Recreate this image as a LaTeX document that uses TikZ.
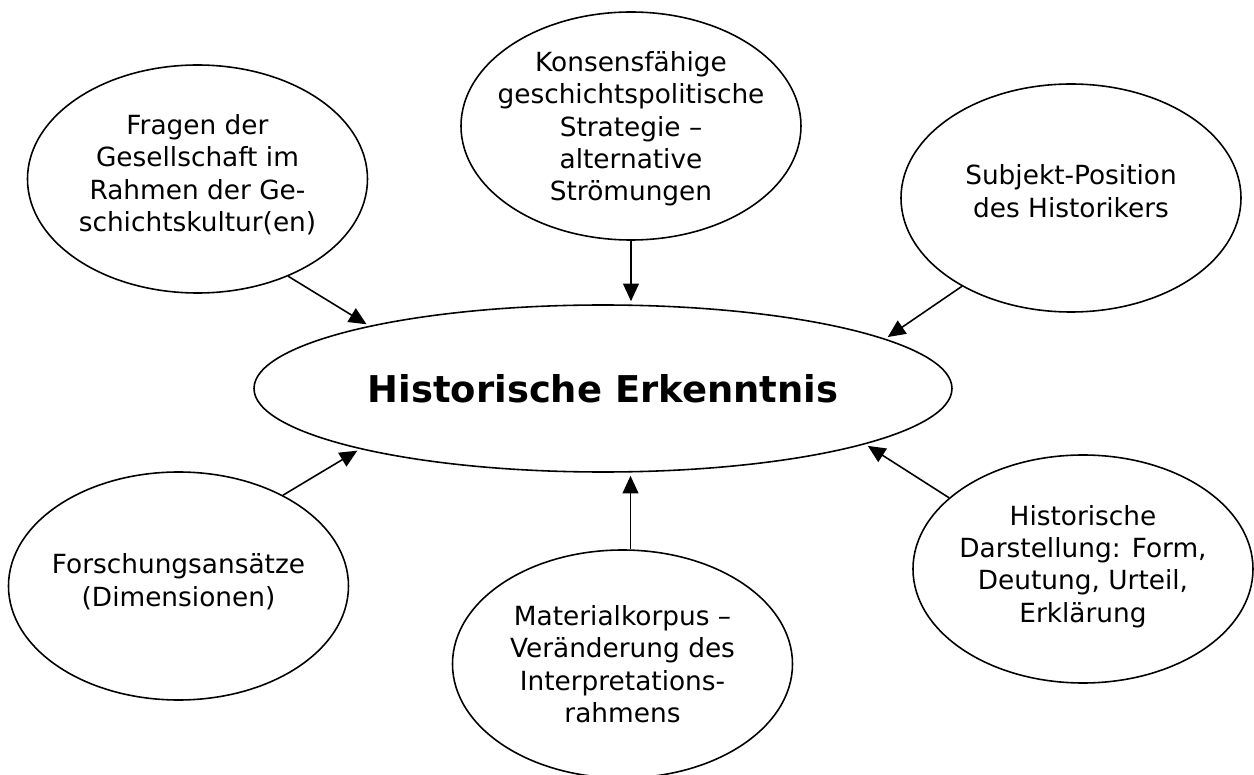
\documentclass[tikz,border=0pt]{standalone}
\usepackage{fontspec}
\setmainfont{DejaVu Sans}
\usetikzlibrary{arrows.meta, shapes.geometric}

\begin{document}
\begin{tikzpicture}[
        bubble/.style={draw, ellipse, minimum width=6.8cm, minimum height=4.56cm, inner sep=-0.6cm, align=center, font=\fontsize{15}{18.4}\selectfont},
        hub/.style={draw, ellipse, minimum width=13.96cm, minimum height=3.34cm, inner sep=0pt, font=\fontsize{21}{24}\selectfont\bfseries},
        line width=0.9pt, >={Triangle[length=10pt, width=9pt]}
    ]
\useasboundingbox (-12.06,-7.73) rectangle (13.02,7.77);

% Central concept
\node[hub] (HE) at (0,0) {Historische Erkenntnis};

% Upper bubbles
\node[bubble, text depth=7pt] (FG) at (-8.11,4.19) {Fragen der\\Gesellschaft im\\Rahmen der Ge-\\schichtskultur(en)};
\node[bubble, text depth=-4pt] (KS) at (0.56,5.25)  {Konsensfähige\\geschichtspolitische\\Strategie –\\alternative\\Strömungen};
\node[bubble, text depth=8pt] (SP) at (9.36,3.81)  {Subjekt-Position\\des Historikers};

% Lower bubbles
\node[bubble, text depth=7pt] (FA) at (-8.49,-3.95) {Forschungsansätze\\(Dimensionen)};
\node[bubble, text depth=-7pt] (MK) at (0.39,-5.51)  {Materialkorpus –\\Veränderung des\\Interpretations-\\rahmens};
\node[bubble, text depth=6pt] (HD) at (9.6,-3.61)   {Historische\\Darstellung: Form,\\Deutung, Urteil,\\Erklärung};

% Influences on the central concept
\draw[->, shorten >=0.6mm] (FG.-47.5) -- (HE.165.6);
\draw[->, shorten >=0.6mm] (KS.south) -- (KS.south |- HE.north);
\draw[->, shorten >=0.6mm] (SP.219.3) -- (HE.10.4);
\draw[->, shorten >=0.6mm] (FA.41)    -- (HE.194.25);
\draw[->, shorten >=0.6mm] (MK.86)    -- (MK.86 |- HE.south);
\draw[->, shorten >=0.6mm] (HD.152.1) -- (HE.-12.1);
\end{tikzpicture}
\end{document}
